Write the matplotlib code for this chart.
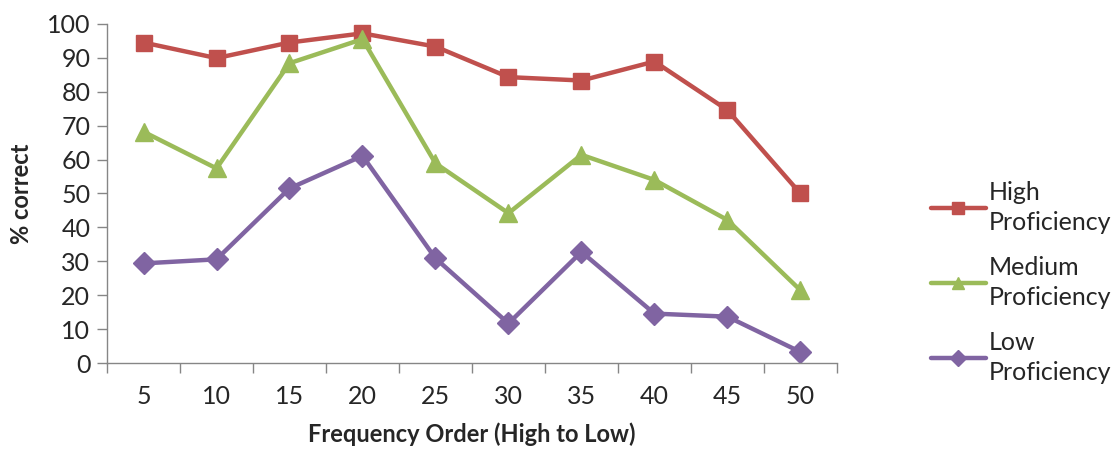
import matplotlib
matplotlib.use("Agg")
import matplotlib.pyplot as plt

# Percent correct by frequency band, one list per proficiency group
freq_order = ["5", "10", "15", "20", "25", "30", "35", "40", "45", "50"]
high = [94.5, 89.9, 94.5, 97.2, 93.3, 84.3, 83.3, 88.9, 74.6, 50.0]
medium = [68.2, 57.4, 88.4, 95.5, 58.9, 44.2, 61.4, 54.0, 42.2, 21.5]
low = [29.4, 30.6, 51.5, 61.1, 30.9, 11.7, 32.8, 14.6, 13.7, 3.3]

series = [
    ("High\nProficiency", high, "#C0504D", "s", 12),
    ("Medium\nProficiency", medium, "#9BBB59", "^", 13),
    ("Low\nProficiency", low, "#8064A2", "D", 11),
]

plt.rcParams["font.family"] = ["Lato", "DejaVu Sans"]
axis_grey = "#868686"
text_col = "#262626"

fig = plt.figure(figsize=(11.16, 4.5), dpi=100)
ax = fig.add_axes([0.0959, 0.193, 0.654, 0.754])

x = list(range(len(freq_order)))
for label, vals, color, marker, ms in series:
    ax.plot(x, vals, color=color, lw=3.2, marker=marker, markersize=ms,
            label=label, solid_joinstyle="round", solid_capstyle="round")

ax.set_xlim(-0.5, len(freq_order) - 0.5)
ax.set_ylim(0, 100)
ax.set_yticks(range(0, 101, 10))
ax.set_xticks(x)
ax.set_xticklabels(freq_order)
# category boundaries carry the tick marks, labels sit between them
ax.set_xticks([i - 0.5 for i in range(len(freq_order) + 1)], minor=True)
ax.tick_params(axis="x", which="major", length=0, pad=16, labelsize=18, labelcolor=text_col)
ax.tick_params(axis="x", which="minor", length=7, color=axis_grey, width=1)
ax.tick_params(axis="y", length=7, color=axis_grey, width=1, labelsize=18,
               labelcolor=text_col, pad=5)

for side in ("top", "right"):
    ax.spines[side].set_visible(False)
for side in ("left", "bottom"):
    ax.spines[side].set_color(axis_grey)
    ax.spines[side].set_linewidth(1)

ax.set_xlabel("Frequency Order (High to Low)", fontsize=17, fontweight="bold",
              labelpad=10, color=text_col)
ax.set_ylabel("% correct", fontsize=17, fontweight="bold", labelpad=10, color=text_col)

leg = fig.legend(loc="upper left", bbox_to_anchor=(0.834, 0.598), frameon=False,
                 fontsize=18, handlelength=2.2, handletextpad=0.12,
                 labelspacing=0.85, markerscale=0.7, borderaxespad=0, borderpad=0)
for t in leg.get_texts():
    t.set_color(text_col)
    t.set_linespacing(1.4)

fig.savefig("out.png", dpi=100)
